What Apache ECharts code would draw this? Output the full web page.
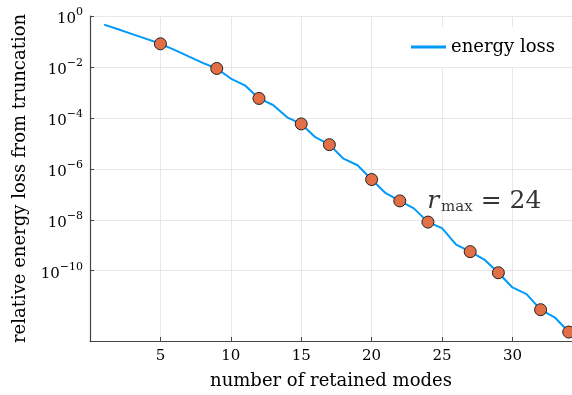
<!DOCTYPE html>
<html>
<head>
<meta charset="utf-8">
<script src="https://cdn.jsdelivr.net/npm/echarts@6/dist/echarts.min.js"></script>
<style>
html,body{margin:0;padding:0;background:#fff;}
#chart{width:572px;height:395px;}
</style>
</head>
<body>
<div id="chart"></div>
<script>
// number of retained modes
const modes = [1,2,3,4,5,6,7,8,9,10,11,12,13,14,15,16,17,18,19,20,21,22,23,24,25,26,27,28,29,30,31,32,33,34];
// relative energy loss from truncation
const energyLoss = [
  4.6e-1, 3.0e-1, 1.95e-1, 1.26e-1, 8.1e-2, 4.7e-2, 2.6e-2, 1.45e-2, 8.7e-3, 3.5e-3,
  1.9e-3, 5.8e-4, 3.2e-4, 1.05e-4, 5.8e-5, 1.74e-5, 8.9e-6, 2.5e-6, 1.38e-6, 3.8e-7,
  1.1e-7, 5.5e-8, 2.8e-8, 8.1e-9, 4.7e-9, 1.05e-9, 5.6e-10, 2.75e-10, 8.3e-11, 2.2e-11,
  1.2e-11, 2.95e-12, 1.48e-12, 3.9e-13
];
// modes highlighted with markers
const markedModes = [5, 9, 12, 15, 17, 20, 22, 24, 27, 29, 32, 34];
// x tick labels
const xTicks = [5, 10, 15, 20, 25, 30];
// y tick exponents (10^k)
const yTickExponents = [0, -2, -4, -6, -8, -10];
// annotation
const annotationText = { sym: 'r', sub: 'max', rest: ' = 24' };
const annotationPos = [28.0, 5.2e-8];
const seriesName = 'energy loss';

const lg = v => Math.log10(v);
const lineData = modes.map((m, i) => [m, lg(energyLoss[i])]);
const markerData = markedModes.map(m => [m, lg(energyLoss[modes.indexOf(m)])]);

const FONT = 'DejaVu Serif';
const chart = echarts.init(document.getElementById('chart'), null, {renderer: 'canvas'});
chart.setOption({
  animation: false,
  backgroundColor: '#ffffff',
  grid: { left: 90, right: 0, top: 16, bottom: 51, containLabel: false },
  legend: {
    data: [{ name: seriesName, icon: 'rect' }],
    left: 407, top: 27,
    itemWidth: 35, itemHeight: 3, itemGap: 5,
    padding: [11, 8, 11, 4],
    backgroundColor: '#ffffff',
    textStyle: { fontFamily: FONT, fontSize: 18, color: '#000' }
  },
  xAxis: {
    type: 'value', min: 0, max: 34.23, interval: 5,
    name: 'number of retained modes', nameLocation: 'middle', nameGap: 31,
    nameTextStyle: { fontFamily: FONT, fontSize: 18, color: '#000' },
    axisLine: { show: true, onZero: false, lineStyle: { color: '#444', width: 1.2 } },
    axisTick: { show: true, inside: true, length: 4, customValues: xTicks, lineStyle: { color: '#444' } },
    axisLabel: { customValues: xTicks, fontFamily: FONT, fontSize: 15, color: '#000', margin: 8 },
    splitLine: { show: true, lineStyle: { color: '#e8e8e8', width: 1 } }
  },
  yAxis: {
    type: 'value', min: -12.76, max: 0,
    name: 'relative energy loss from truncation', nameLocation: 'middle', nameGap: 58,
    nameTextStyle: { fontFamily: FONT, fontSize: 18, color: '#000' },
    axisLine: { show: true, onZero: false, lineStyle: { color: '#444', width: 1.2 } },
    axisTick: { show: true, inside: true, length: 4, customValues: yTickExponents, lineStyle: { color: '#444' } },
    axisLabel: {
      customValues: yTickExponents, margin: 7,
      formatter: v => '{b|10}{s|' + (v === 0 ? '0' : '\u2212' + Math.abs(v)) + '}',
      rich: {
        b: { fontFamily: FONT, fontSize: 15, lineHeight: 14, padding: [6, 0, 0, 0], color: '#000' },
        s: { fontFamily: FONT, fontSize: 11, lineHeight: 11, padding: [0, 0, 8, 0], color: '#000' }
      }
    },
    splitLine: { show: true, lineStyle: { color: '#e8e8e8', width: 1 } }
  },
  series: [
    {
      name: seriesName, type: 'line', data: lineData,
      showSymbol: false, symbol: 'none',
      lineStyle: { color: '#009AFA', width: 2 },
      itemStyle: { color: '#009AFA' },
      z: 2
    },
    {
      name: 'markers', type: 'scatter', data: markerData,
      symbol: 'circle', symbolSize: 12,
      itemStyle: { color: '#E26F46', borderColor: '#222', borderWidth: 1, opacity: 1 },
      z: 3
    },
    {
      name: 'annotation', type: 'scatter',
      data: [[annotationPos[0], lg(annotationPos[1])]],
      symbolSize: 0, silent: true,
      label: {
        show: true, position: 'inside',
        formatter: '{r|' + annotationText.sym + '}{sub|' + annotationText.sub + '}{eq|' + annotationText.rest + '}',
        rich: {
          r: { fontFamily: FONT, fontStyle: 'italic', fontSize: 25, lineHeight: 25, color: '#000' },
          sub: { fontFamily: FONT, fontSize: 15, lineHeight: 15, padding: [12, 0, 0, 2], color: '#000' },
          eq: { fontFamily: FONT, fontSize: 25, lineHeight: 25, color: '#000' }
        }
      },
      z: 4
    }
  ]
});
</script>
</body>
</html>
